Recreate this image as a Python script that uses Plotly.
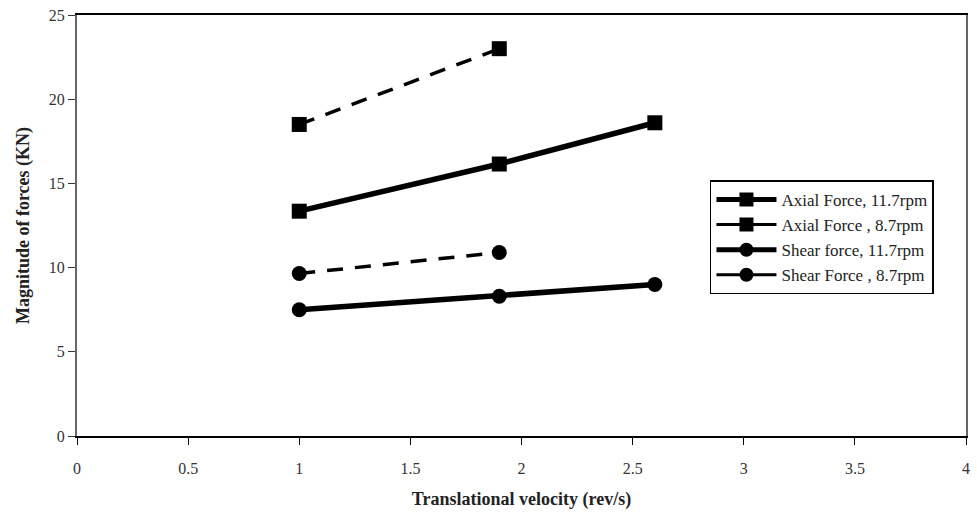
import plotly.graph_objects as go

x_axial_117 = [1.0, 1.9, 2.6]
y_axial_117 = [13.35, 16.15, 18.6]
x_axial_87 = [1.0, 1.9]
y_axial_87 = [18.5, 23.0]
x_shear_117 = [1.0, 1.9, 2.6]
y_shear_117 = [7.5, 8.3, 9.0]
x_shear_87 = [1.0, 1.9]
y_shear_87 = [9.65, 10.9]

names = ["Axial Force, 11.7rpm", "Axial Force , 8.7rpm",
         "Shear force, 11.7rpm", "Shear Force , 8.7rpm"]

FONT = "Liberation Serif, Times New Roman, serif"
fig = go.Figure()

series = [
    (x_axial_117, y_axial_117, "solid", 5.5, "square", names[0]),
    (x_axial_87, y_axial_87, "dash", 3.5, "square", names[1]),
    (x_shear_117, y_shear_117, "solid", 5.5, "circle", names[2]),
    (x_shear_87, y_shear_87, "dash", 3.5, "circle", names[3]),
]
for xs, ys, dash, w, sym, nm in series:
    fig.add_trace(go.Scatter(x=xs, y=ys, mode="lines+markers", showlegend=False,
                             line=dict(color="black", width=w, dash=dash if dash == "solid" else "16px,12px"),
                             marker=dict(symbol=sym, size=15, color="black")))
# legend entries (solid lines as in the reference legend)
for xs, ys, dash, w, sym, nm in series:
    fig.add_trace(go.Scatter(x=[None], y=[None], mode="lines+markers", name=nm,
                             line=dict(color="black", width=5 if w > 4 else 3),
                             marker=dict(symbol=sym, size=14, color="black")))

fig.update_layout(
    width=977, height=514,
    margin=dict(l=77, r=7, t=14, b=78),
    paper_bgcolor="white", plot_bgcolor="white",
    font=dict(family=FONT, size=16, color="#333"),
    legend=dict(x=0.712, y=0.607, xanchor="left", yanchor="top",
                bordercolor="black", borderwidth=1.5, bgcolor="white",
                font=dict(family=FONT, size=17, color="#222"),
                tracegroupgap=0, itemwidth=60),
)
fig.update_xaxes(range=[0, 4], tickvals=[0, 0.5, 1, 1.5, 2, 2.5, 3, 3.5, 4],
                 ticktext=["0", "0.5", "1", "1.5", "2", "2.5", "3", "3.5", "4"],
                 showgrid=False, zeroline=False, showline=True, linecolor="black",
                 linewidth=1.5, mirror=True, ticks="outside", ticklen=7, tickcolor="black",
                 tickfont=dict(size=16, color="#333"), ticklabelstandoff=10,
                 title=dict(text="<b>Translational velocity (rev/s)</b>", standoff=16,
                            font=dict(size=18, color="#222")))
fig.update_yaxes(range=[0, 25], tickvals=[0, 5, 10, 15, 20, 25],
                 showgrid=False, zeroline=False, showline=True, linecolor="#666",
                 linewidth=2, mirror=True, ticks="outside", ticklen=7, tickcolor="#333",
                 tickfont=dict(size=16, color="#333"),
                 title=dict(text="<b>Magnitude of forces (KN)</b>", standoff=14,
                            font=dict(size=18, color="#222")))

fig.write_html("out.html")
